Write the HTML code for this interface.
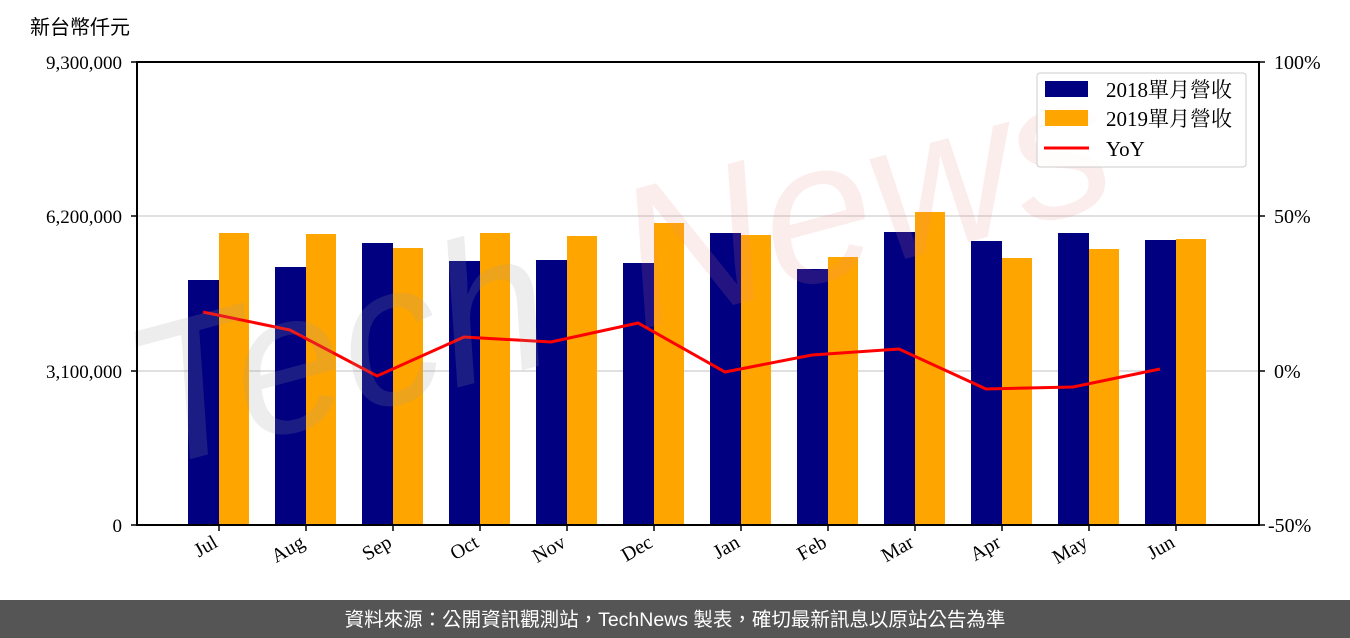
<!DOCTYPE html>
<html><head><meta charset="utf-8"><style>
body{margin:0;background:#fff;width:1350px;height:638px;overflow:hidden;position:relative;font-family:"Liberation Serif","Noto Serif CJK SC",serif}
</style></head><body>
<svg width="1350" height="638" style="position:absolute;left:0;top:0" font-family="'Liberation Serif','Noto Serif CJK SC',serif">
<rect width="1350" height="638" fill="#fff"/>
<text x="30" y="34" font-size="20" font-family="'Liberation Sans','Noto Sans CJK TC',sans-serif" fill="#000">新台幣仟元</text>
<g stroke="#d6d6d6" stroke-width="1.5">
<line x1="137" y1="216" x2="1259" y2="216"/>
<line x1="137" y1="371" x2="1259" y2="371"/>
</g>
<g fill="#000080">
<rect x="188" y="280" width="31" height="245"/>
<rect x="275" y="267" width="31" height="258"/>
<rect x="362" y="243" width="31" height="282"/>
<rect x="449" y="261" width="31" height="264"/>
<rect x="536" y="260" width="31" height="265"/>
<rect x="623" y="263" width="31" height="262"/>
<rect x="710" y="233" width="31" height="292"/>
<rect x="797" y="269" width="31" height="256"/>
<rect x="884" y="232" width="31" height="293"/>
<rect x="971" y="241" width="31" height="284"/>
<rect x="1058" y="233" width="31" height="292"/>
<rect x="1145" y="240" width="31" height="285"/>
</g>
<g fill="#ffa500">
<rect x="219" y="233" width="30" height="292"/>
<rect x="306" y="234" width="30" height="291"/>
<rect x="393" y="248" width="30" height="277"/>
<rect x="480" y="233" width="30" height="292"/>
<rect x="567" y="236" width="30" height="289"/>
<rect x="654" y="223" width="30" height="302"/>
<rect x="741" y="235" width="30" height="290"/>
<rect x="828" y="257" width="30" height="268"/>
<rect x="915" y="212" width="30" height="313"/>
<rect x="1002" y="258" width="30" height="267"/>
<rect x="1089" y="249" width="30" height="276"/>
<rect x="1176" y="239" width="30" height="286"/>
</g>
<polyline fill="none" stroke="#ff0000" stroke-width="3" points="203,312 290,330 377,376 464,337 551,342 638,323 725,372 812,355 899,349 986,389 1073,387 1160,369"/>
<g font-family="'Liberation Sans',sans-serif" font-style="italic" font-size="200">
<text transform="translate(150,470) rotate(-15)" fill="#999" fill-opacity="0.18">Tech</text>
<text transform="translate(640,330) rotate(-15)" fill="#e88" fill-opacity="0.15">News</text>
</g>
<rect x="137" y="62" width="1122" height="463" fill="none" stroke="#000" stroke-width="2"/>
<g stroke="#000" stroke-width="1.5">
<line x1="131" y1="62" x2="137" y2="62"/><line x1="131" y1="216" x2="137" y2="216"/><line x1="131" y1="371" x2="137" y2="371"/><line x1="131" y1="525" x2="137" y2="525"/>
<line x1="1259" y1="62" x2="1265" y2="62"/><line x1="1259" y1="216" x2="1265" y2="216"/><line x1="1259" y1="371" x2="1265" y2="371"/><line x1="1259" y1="525" x2="1265" y2="525"/>
<line x1="219" y1="525" x2="219" y2="531"/><line x1="306" y1="525" x2="306" y2="531"/><line x1="393" y1="525" x2="393" y2="531"/><line x1="480" y1="525" x2="480" y2="531"/><line x1="567" y1="525" x2="567" y2="531"/><line x1="654" y1="525" x2="654" y2="531"/><line x1="741" y1="525" x2="741" y2="531"/><line x1="828" y1="525" x2="828" y2="531"/><line x1="915" y1="525" x2="915" y2="531"/><line x1="1002" y1="525" x2="1002" y2="531"/><line x1="1089" y1="525" x2="1089" y2="531"/><line x1="1176" y1="525" x2="1176" y2="531"/>
</g>
<g font-size="19" text-anchor="end">
<text x="122" y="69">9,300,000</text><text x="122" y="223">6,200,000</text><text x="122" y="378">3,100,000</text><text x="122" y="532">0</text>
</g>
<g font-size="20">
<text x="1274" y="69">100%</text><text x="1274" y="223">50%</text><text x="1274" y="378">0%</text><text x="1268" y="532">-50%</text>
</g>
<g font-size="20" text-anchor="end">
<text transform="translate(219,546) rotate(-30)">Jul</text>
<text transform="translate(306,546) rotate(-30)">Aug</text>
<text transform="translate(393,546) rotate(-30)">Sep</text>
<text transform="translate(480,546) rotate(-30)">Oct</text>
<text transform="translate(567,546) rotate(-30)">Nov</text>
<text transform="translate(654,546) rotate(-30)">Dec</text>
<text transform="translate(741,546) rotate(-30)">Jan</text>
<text transform="translate(828,546) rotate(-30)">Feb</text>
<text transform="translate(915,546) rotate(-30)">Mar</text>
<text transform="translate(1002,546) rotate(-30)">Apr</text>
<text transform="translate(1089,546) rotate(-30)">May</text>
<text transform="translate(1176,546) rotate(-30)">Jun</text>
</g>
<rect x="1037" y="73" width="209" height="94" rx="3" fill="#fff" fill-opacity="0.8" stroke="#ccc" stroke-width="1"/>
<rect x="1045" y="81" width="43" height="16" fill="#000080"/>
<rect x="1045" y="110" width="43" height="16" fill="#ffa500"/>
<line x1="1044" y1="148" x2="1089" y2="148" stroke="#ff0000" stroke-width="3"/>
<g font-size="21"><text x="1106" y="97">2018單月營收</text><text x="1106" y="126">2019單月營收</text><text x="1106" y="156">YoY</text></g>
<rect x="0" y="600" width="1350" height="38" fill="#555"/>
<text x="675" y="626" font-size="19.5" fill="#fff" text-anchor="middle" font-family="'Liberation Sans','Noto Sans CJK TC',sans-serif">資料來源：公開資訊觀測站，TechNews 製表，確切最新訊息以原站公告為準</text>
</svg>
</body></html>
